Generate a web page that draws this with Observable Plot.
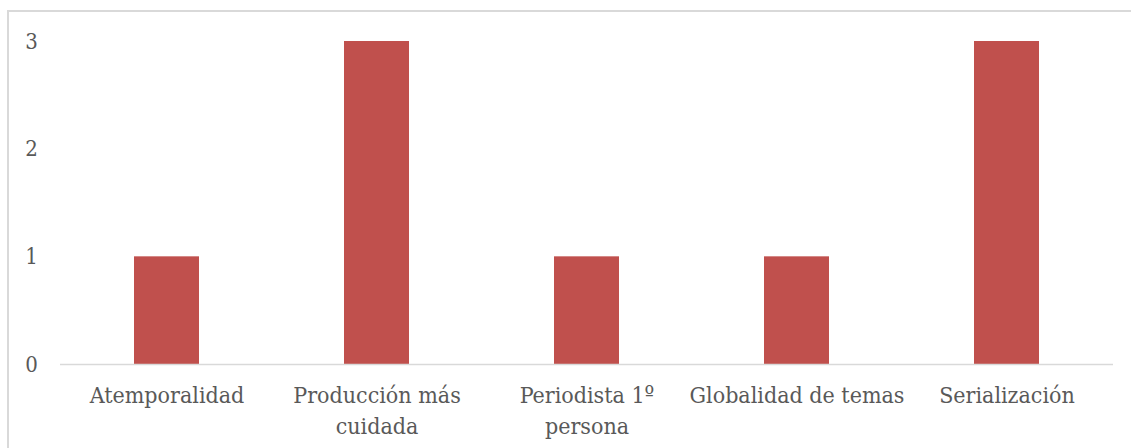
<!DOCTYPE html>
<html>
<head>
<meta charset="utf-8">
<script src="https://cdn.jsdelivr.net/npm/d3@7"></script>
<script src="https://cdn.jsdelivr.net/npm/@observablehq/plot@0.6"></script>
<style>
  html, body { margin: 0; padding: 0; background: #fff; overflow: hidden; }
  #wrap { position: relative; width: 1131px; height: 448px; }
  #frame { position: absolute; left: 7px; top: 10px; width: 1200px; height: 600px;
           border: 2px solid #d9d9d9; box-sizing: border-box; pointer-events: none; }
  #chart { position: absolute; left: 0; top: 0; }
</style>
</head>
<body>
<div id="wrap"><div id="chart"></div><div id="frame"></div></div>
<script>
const categories = ["Atemporalidad", "Producción más cuidada", "Periodista 1º persona", "Globalidad de temas", "Serialización"];
const values = [1, 3, 1, 1, 3];
const tickLabels = ["Atemporalidad", "Producción más\ncuidada", "Periodista 1º\npersona", "Globalidad de temas", "Serialización"];
const yTicks = [0, 1, 2, 3];

const data = categories.map((c, i) => ({category: c, value: values[i]}));
const labelOf = new Map(categories.map((c, i) => [c, tickLabels[i]]));

const chart = Plot.plot({
  width: 1131,
  height: 448,
  marginLeft: 60,
  marginRight: 18,
  marginTop: 41,
  marginBottom: 84,
  style: {fontFamily: "'DejaVu Serif Condensed', 'DejaVu Serif'", fontSize: "23px", color: "#595959", background: "transparent"},
  x: {domain: categories, paddingInner: 0.69, paddingOuter: 0.345, label: null},
  y: {domain: [0, 3], label: null},
  marks: [
    Plot.barY(data, {x: "category", y: "value", fill: "#C0504D"}),
    Plot.ruleY([0], {stroke: "#d9d9d9", strokeWidth: 1.5}),
    Plot.axisY({ticks: yTicks, tickFormat: d => String(d), tickSize: 0, tickPadding: 0, textAnchor: "middle", dx: -29, fontSize: 22, fill: "#595959", label: null}),
    Plot.axisX({tickSize: 0, tickPadding: 17, tickFormat: d => labelOf.get(d), lineHeight: 1.33, fontSize: 23, fill: "#595959", label: null})
  ]
});
document.getElementById("chart").appendChild(chart);
</script>
</body>
</html>
